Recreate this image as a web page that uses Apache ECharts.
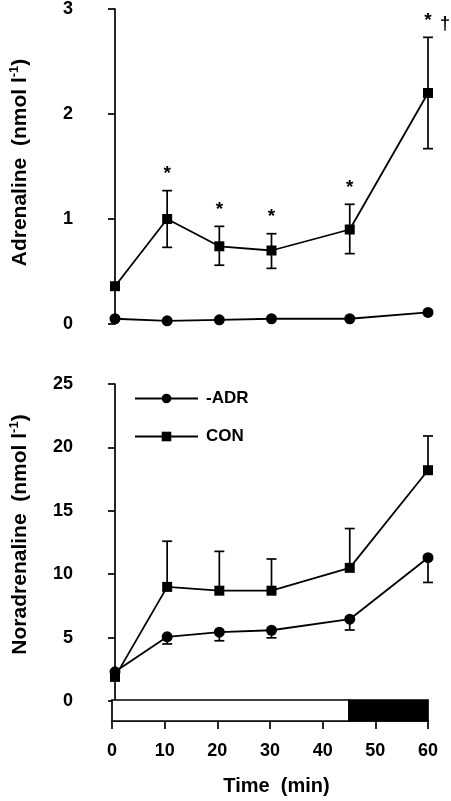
<!DOCTYPE html>
<html><head><meta charset="utf-8">
<script src="https://cdn.jsdelivr.net/npm/echarts@6/dist/echarts.min.js"></script>
<style>html,body{margin:0;padding:0;background:#fff}#c{width:451px;height:801px}</style>
</head><body><div id="c"></div>
<script>
// ---- data ----
const times = [0, 10, 20, 30, 45, 60];
const xTicks = [0, 10, 20, 30, 40, 50, 60];
// Adrenaline (nmol l-1)
const adrCON = [0.36, 1.00, 0.74, 0.70, 0.90, 2.20];
const adrCONHi = [null, 1.27, 0.93, 0.86, 1.14, 2.73];
const adrCONLo = [null, 0.73, 0.56, 0.53, 0.67, 1.67];
const adrADR = [0.05, 0.03, 0.04, 0.05, 0.05, 0.11];
const adrStar = [false, true, true, true, true, true];
const adrDagger = [false, false, false, false, false, true];
// Noradrenaline (nmol l-1)
const norCON = [1.9, 9.0, 8.7, 8.7, 10.5, 18.2];
const norCONHi = [null, 12.6, 11.8, 11.2, 13.6, 20.9];
const norADR = [2.3, 5.06, 5.43, 5.58, 6.45, 11.3];
const norADRLo = [null, 4.5, 4.75, 4.98, 5.6, 9.35];
// protocol phases (min)
const phaseStart = [0, 45];
const phaseEnd = [45, 60];
const phaseDark = [false, true];

const FONT = '"Liberation Sans", Arial, Helvetica, sans-serif';
const K = '#000';

function pairs(ys) { return times.map((t, i) => [t, ys[i]]); }
function errData(mean, end) {
  const out = [];
  times.forEach((t, i) => { if (end[i] != null) out.push([t, mean[i], end[i]]); });
  return out;
}
function markData(flags, ys) {
  const out = [];
  times.forEach((t, i) => { if (flags[i]) out.push([t, ys[i]]); });
  return out;
}
function errRender(params, api) {
  const x = api.value(0), m = api.value(1), e = api.value(2);
  const p0 = api.coord([x, m]), p1 = api.coord([x, e]);
  const hw = 5;
  return { type: 'group', children: [
    { type: 'line', shape: { x1: p0[0], y1: p0[1], x2: p1[0], y2: p1[1] }, style: { stroke: K, lineWidth: 1.7 } },
    { type: 'line', shape: { x1: p1[0] - hw, y1: p1[1], x2: p1[0] + hw, y2: p1[1] }, style: { stroke: K, lineWidth: 1.7 } }
  ]};
}
function textRender(txt, dx, dy, size) {
  return function (params, api) {
    const p = api.coord([api.value(0), api.value(1)]);
    return { type: 'text', x: p[0] + dx, y: p[1] + dy,
      style: { text: txt, fill: K, font: 'bold ' + size + 'px ' + FONT, textAlign: 'center', textVerticalAlign: 'middle' } };
  };
}
function phaseRender(params, api) {
  const a = api.coord([api.value(0), 1]);
  const b = api.coord([api.value(1), 0]);
  return { type: 'rect', shape: { x: a[0], y: a[1], width: b[0] - a[0], height: b[1] - a[1] },
    style: { fill: api.value(2) ? K : '#fff', stroke: K, lineWidth: 1.7 } };
}

const axisLine = { show: true, lineStyle: { color: K, width: 1.7 } };
const axisTick = { show: true, length: 7, lineStyle: { color: K, width: 1.7 } };
const axisLabel = { color: K, fontSize: 18, fontWeight: 'bold', fontFamily: FONT, margin: 13 };
const nameStyle = { color: K, fontSize: 21, fontWeight: 'bold', fontFamily: FONT, lineHeight: 24,
  rich: { sup: { fontSize: 13, fontWeight: 'bold', fontFamily: FONT, verticalAlign: 'top', lineHeight: 14, color: K } } };

function lineSeries(name, data, xi, symbol, size) {
  return { type: 'line', name: name, xAxisIndex: xi, yAxisIndex: xi, data: data,
    symbol: symbol, symbolSize: size, showSymbol: true,
    lineStyle: { color: K, width: 1.8 }, itemStyle: { color: K }, z: 3 };
}

const option = {
  animation: false,
  backgroundColor: '#fff',
  grid: [
    { left: 112, right: 23, top: 9, height: 315 },
    { left: 112, right: 23, top: 384, height: 317 },
    { left: 112, right: 23, top: 700, height: 21 }
  ],
  xAxis: [
    { gridIndex: 0, type: 'value', min: 0, max: 60, show: false },
    { gridIndex: 1, type: 'value', min: 0, max: 60, show: false },
    { gridIndex: 2, type: 'value', min: 0, max: 60, interval: 10, position: 'bottom', offset: 7,
      axisLine: axisLine, axisTick: { show: true, length: 8, lineStyle: { color: K, width: 1.7 } },
      axisLabel: Object.assign({}, axisLabel, { margin: 14, formatter: v => xTicks.includes(v) ? String(v) : '' }),
      splitLine: { show: false },
      name: 'Time  (min)', nameLocation: 'middle', nameGap: 46,
      nameTextStyle: Object.assign({}, nameStyle, { fontSize: 20, padding: [0, 0, 0, 13] }) }
  ],
  yAxis: [
    { gridIndex: 0, type: 'value', min: 0, max: 3, interval: 1, offset: 29,
      axisLine: axisLine, axisTick: axisTick, axisLabel: axisLabel, splitLine: { show: false },
      name: 'Adrenaline  (nmol l{sup|-1})', nameLocation: 'middle', nameGap: 54, nameRotate: 90,
      nameTextStyle: Object.assign({}, nameStyle, { padding: [0, 0, 0, 8] }) },
    { gridIndex: 1, type: 'value', min: 0, max: 25, interval: 5, offset: 29,
      axisLine: axisLine, axisTick: axisTick, axisLabel: axisLabel, splitLine: { show: false },
      name: 'Noradrenaline  (nmol l{sup|-1})', nameLocation: 'middle', nameGap: 54, nameRotate: 90,
      nameTextStyle: Object.assign({}, nameStyle, { padding: [0, 0, 0, 16] }) },
    { gridIndex: 2, type: 'value', min: 0, max: 1, show: false }
  ],
  legend: {
    orient: 'vertical', left: 129, top: 385, itemWidth: 63, itemHeight: 12, itemGap: 21,
    selectedMode: false, data: ['-ADR', 'CON'],
    textStyle: { color: K, fontSize: 17, fontWeight: 'bold', fontFamily: FONT, lineHeight: 16, padding: [0, 0, 0, 3] }
  },
  series: [
    { type: 'custom', name: 'errAdrHi', xAxisIndex: 0, yAxisIndex: 0, renderItem: errRender, data: errData(adrCON, adrCONHi), encode: { x: 0, y: [1, 2] }, silent: true, z: 2 },
    { type: 'custom', name: 'errAdrLo', xAxisIndex: 0, yAxisIndex: 0, renderItem: errRender, data: errData(adrCON, adrCONLo), encode: { x: 0, y: [1, 2] }, silent: true, z: 2 },
    lineSeries('-ADR', pairs(adrADR), 0, 'circle', 11),
    lineSeries('CON', pairs(adrCON), 0, 'rect', 10),
    { type: 'custom', name: 'stars', xAxisIndex: 0, yAxisIndex: 0, renderItem: textRender('*', 0, -17, 19), data: markData(adrStar, adrCONHi), silent: true, z: 4 },
    { type: 'custom', name: 'dagger', xAxisIndex: 0, yAxisIndex: 0, renderItem: textRender('\u2020', 17, -13, 18), data: markData(adrDagger, adrCONHi), silent: true, z: 4, clip: false },
    { type: 'custom', name: 'errNorCON', xAxisIndex: 1, yAxisIndex: 1, renderItem: errRender, data: errData(norCON, norCONHi), encode: { x: 0, y: [1, 2] }, silent: true, z: 2 },
    { type: 'custom', name: 'errNorADR', xAxisIndex: 1, yAxisIndex: 1, renderItem: errRender, data: errData(norADR, norADRLo), encode: { x: 0, y: [1, 2] }, silent: true, z: 2 },
    lineSeries('-ADR', pairs(norADR), 1, 'circle', 11),
    lineSeries('CON', pairs(norCON), 1, 'rect', 10),
    { type: 'custom', name: 'phases', xAxisIndex: 2, yAxisIndex: 2, renderItem: phaseRender,
      data: phaseStart.map((s, i) => [s, phaseEnd[i], phaseDark[i] ? 1 : 0]), encode: { x: [0, 1] }, silent: true }
  ]
};
const chart = echarts.init(document.getElementById('c'));
chart.setOption(option);
</script></body></html>
